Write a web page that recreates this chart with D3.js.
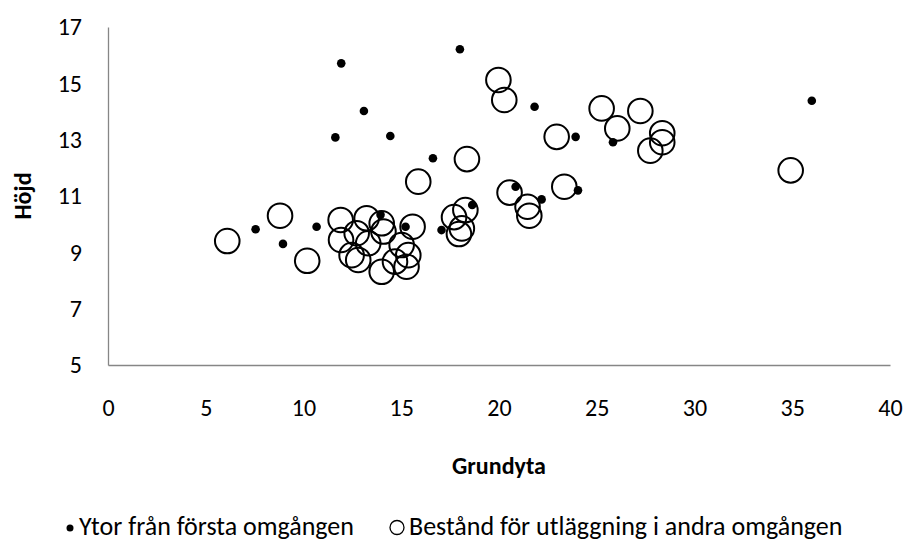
<!DOCTYPE html>
<html><head><meta charset="utf-8">
<script src="https://cdn.jsdelivr.net/npm/d3@7"></script>
<style>body{margin:0;background:#fff}svg{display:block}</style>
</head><body>
<svg id="c" width="904" height="545"></svg>
<script>
const xTicks = [0,5,10,15,20,25,30,35,40];
const yTicks = [5,7,9,11,13,15,17];
const xTitle = "Grundyta";
const yTitle = "Höjd";
const seriesNames = ["Ytor från första omgången","Bestånd för utläggning i andra omgången"];

// Series 1: small filled dots
const s1x = [7.55,8.95,10.67,11.63,11.93,13.09,13.94,14.44,15.22,16.62,17.06,18.0,18.63,20.85,21.82,22.18,23.92,24.04,25.83,36.0];
const s1y = [9.82,9.30,9.91,13.08,15.71,14.02,10.33,13.13,9.91,12.34,9.79,16.21,10.68,11.33,14.17,10.88,13.10,11.20,12.91,14.38];

// Series 2: open circles
const s2x = [6.10,8.80,10.19,11.90,11.92,12.46,12.72,12.80,13.23,13.31,14.00,14.00,14.09,14.68,15.02,15.27,15.36,15.58,15.87,17.70,17.95,18.10,18.28,18.36,19.97,20.27,20.54,21.46,21.55,22.95,23.34,25.25,26.05,27.23,27.74,28.35,28.35,34.92];
const s2y = [9.40,10.30,8.70,10.15,9.44,8.90,9.68,8.73,10.21,9.32,10.03,8.31,9.74,8.67,9.26,8.49,8.90,9.91,11.51,10.25,9.65,9.85,10.50,12.31,15.12,14.41,11.12,10.62,10.30,13.10,11.33,14.11,13.40,14.02,12.61,13.23,12.91,11.91];

const svg = d3.select("#c");
const font = "Carlito, Calibri, 'Open Sans', sans-serif";
const fs = 24;
const L = 108, R = 890, T = 27, B = 365;
const x = d3.scaleLinear().domain([0,40]).range([L,R]);
const y = d3.scaleLinear().domain([5,17]).range([B,T]);

const gx = svg.append("g").attr("transform",`translate(0,${B})`)
  .call(d3.axisBottom(x).tickValues(xTicks).tickSize(0).tickPadding(34));
gx.select(".domain").attr("stroke","#868686").attr("stroke-width",1.3);
gx.selectAll("text").attr("font-family",font).attr("font-size",fs).attr("fill","#000");

const gy = svg.append("g").attr("transform",`translate(${L},0)`)
  .call(d3.axisLeft(y).tickValues(yTicks).tickSize(0).tickPadding(26));
gy.select(".domain").attr("stroke","#868686").attr("stroke-width",1.3);
gy.selectAll("text").attr("font-family",font).attr("font-size",fs).attr("fill","#000");

svg.append("text").attr("x",(L+R)/2).attr("y",474).attr("text-anchor","middle")
  .attr("font-family",font).attr("font-size",fs).attr("font-weight","bold").text(xTitle);
svg.append("text").attr("transform",`translate(31,${(T+B)/2}) rotate(-90)`).attr("text-anchor","middle")
  .attr("font-family",font).attr("font-size",fs).attr("font-weight","bold").text(yTitle);

const d2 = s2x.map((v,i)=>({x:v,y:s2y[i]}));
svg.append("g").selectAll("circle").data(d2).join("circle")
  .attr("cx",d=>x(d.x)).attr("cy",d=>y(d.y)).attr("r",12.3)
  .attr("fill","none").attr("stroke","#000").attr("stroke-width",2);

const d1 = s1x.map((v,i)=>({x:v,y:s1y[i]}));
svg.append("g").selectAll("circle").data(d1).join("circle")
  .attr("cx",d=>x(d.x)).attr("cy",d=>y(d.y)).attr("r",4.3).attr("fill","#000");

const lfs = 26;
const lg = svg.append("g");
const ly = 535;
lg.append("circle").attr("cx",70).attr("cy",ly-7).attr("r",3.5).attr("fill","#000");
lg.append("text").attr("x",79).attr("y",ly).attr("font-family",font).attr("font-size",lfs).text(seriesNames[0]);
lg.append("circle").attr("cx",397).attr("cy",ly-7.5).attr("r",7).attr("fill","none").attr("stroke","#000").attr("stroke-width",1.3);
lg.append("text").attr("x",409).attr("y",ly).attr("font-family",font).attr("font-size",lfs).text(seriesNames[1]);
</script>
</body></html>
